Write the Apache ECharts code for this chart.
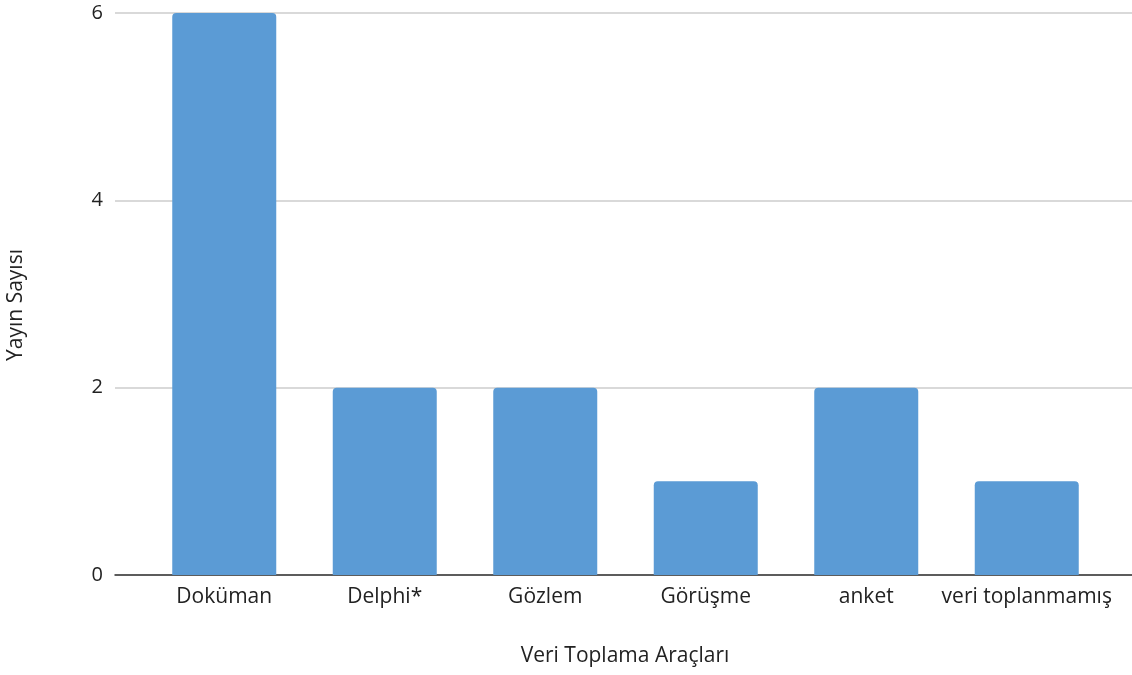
<!DOCTYPE html>
<html>
<head>
<meta charset="utf-8">
<script src="https://cdn.jsdelivr.net/npm/echarts@6/dist/echarts.min.js"></script>
<style>
  html, body { margin: 0; padding: 0; background: #fff; }
  #chart { width: 1132px; height: 675px; }
</style>
</head>
<body>
<div id="chart"></div>
<script>
// Publication counts per data collection tool
const categories = ['Doküman', 'Delphi*', 'Gözlem', 'Görüşme', 'anket', 'veri toplanmamış'];
const counts = [6, 2, 2, 1, 2, 1];
const yTicks = { min: 0, max: 6, interval: 2 };
const xTitle = 'Veri Toplama Araçları';
const yTitle = 'Yayın Sayısı';

const FONT = '"Open Sans", "Noto Sans", sans-serif';
const FS = 21;
const chart = echarts.init(document.getElementById('chart'));

chart.setOption({
  backgroundColor: '#ffffff',
  animation: false,
  grid: [
    // frame grid: gridlines, value labels and baseline across the full width
    { left: 115, right: 0, top: 13, bottom: 100 },
    // bar grid: category bands
    { left: 144, right: 25, top: 13, bottom: 100 }
  ],
  xAxis: [
    {
      gridIndex: 0, type: 'value', min: 0, max: 1,
      axisLine: { show: true, onZero: false, lineStyle: { color: '#333333', width: 1.5 } },
      axisTick: { show: false }, axisLabel: { show: false }, splitLine: { show: false }
    },
    {
      gridIndex: 1, type: 'category', data: categories,
      axisLine: { show: false }, axisTick: { show: false },
      axisLabel: { color: '#222222', fontSize: FS, fontFamily: FONT, margin: 12, interval: 0 }
    }
  ],
  yAxis: [
    {
      gridIndex: 0, type: 'value', min: yTicks.min, max: yTicks.max, interval: yTicks.interval,
      axisLine: { show: false }, axisTick: { show: false },
      axisLabel: { color: '#222222', fontSize: 20, fontFamily: FONT, margin: 12 },
      splitLine: { show: true, lineStyle: { color: '#cccccc', width: 1.5 } }
    },
    {
      gridIndex: 1, type: 'value', min: yTicks.min, max: yTicks.max, interval: yTicks.interval,
      show: false
    }
  ],
  graphic: [
    {
      type: 'text', x: 625, y: 646,
      style: { text: xTitle, fill: '#222222', fontSize: FS, fontFamily: FONT, align: 'center' }
    },
    {
      type: 'text', x: 6, y: 305, rotation: Math.PI / 2,
      style: { text: yTitle, fill: '#222222', fontSize: FS, fontFamily: FONT,
               align: 'center', verticalAlign: 'top' }
    }
  ],
  series: [
    {
      type: 'bar', xAxisIndex: 1, yAxisIndex: 1,
      data: counts, barWidth: 104,
      itemStyle: { color: '#5b9bd5', borderRadius: [4, 4, 0, 0] },
      z: 3
    }
  ]
});
</script>
</body>
</html>
